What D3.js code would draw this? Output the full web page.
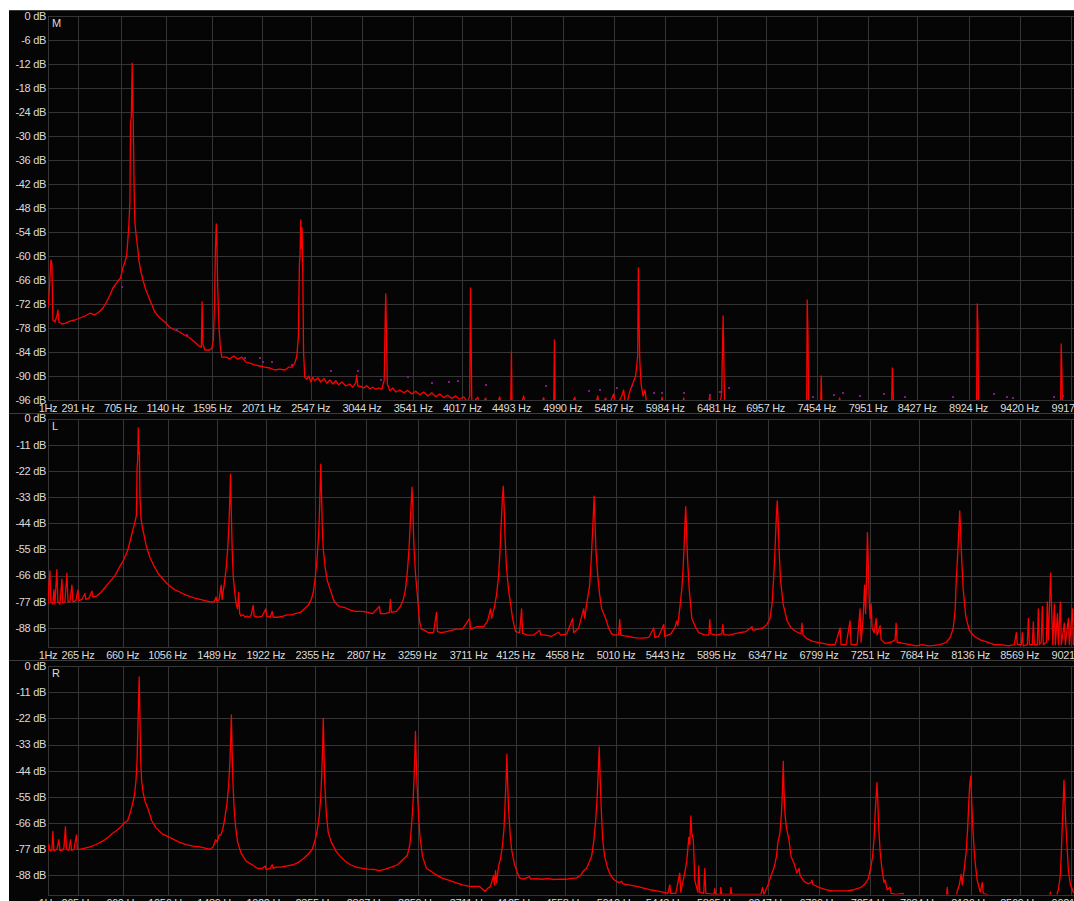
<!DOCTYPE html>
<html>
<head>
<meta charset="utf-8">
<script src="https://cdn.jsdelivr.net/npm/d3@7"></script>
<style>
body { margin: 0; background: #fff; }
svg { display: block; }
text { font-family: "Liberation Sans", Arial, sans-serif; font-size: 11px; fill: #dadada; letter-spacing: -0.3px; }
</style>
</head>
<body>
<script>
// tick values
var dbTicksM = [0, -6, -12, -18, -24, -30, -36, -42, -48, -54, -60, -66, -72, -78, -84, -90, -96];
var dbTicksLR = [0, -11, -22, -33, -44, -55, -66, -77, -88];
var freqTicksM = [1, 291, 705, 1140, 1595, 2071, 2547, 3044, 3541, 4017, 4493, 4990, 5487, 5984, 6481, 6957, 7454, 7951, 8427, 8924, 9420, 9917];
var freqTicksLR = [1, 265, 660, 1056, 1489, 1922, 2355, 2807, 3259, 3711, 4125, 4558, 5010, 5443, 5895, 6347, 6799, 7251, 7684, 8136, 8569, 9021];

// spectra: [Hz, dB]; -98 means below the bottom of the display
var mSpectrum = [[1,-73],[10,-70],[19,-66],[29,-61],[39,-62],[48,-76],[68,-76.5],[87,-75],[97,-73.5],[107,-76.5],[136,-77],[174,-76.8],[213,-76.3],[262,-76],[310,-75.5],[359,-75],[407,-74.3],[455,-74.7],[504,-73.8],[533,-73],[562,-71.8],[601,-69.8],[630,-68],[659,-67],[678,-66.3],[704,-65.5],[727,-63],[746,-61.5],[763,-60],[775,-56],[785,-52],[795,-46.5],[801,-27],[809,-25],[817,-11.8],[824,-24.5],[827,-26],[836,-43.5],[843,-51.5],[856,-55],[869,-57.7],[882,-61],[898,-63.5],[921,-66],[950,-68.5],[988,-71],[1037,-74],[1085,-75.5],[1134,-76.5],[1182,-77.8],[1231,-78.5],[1279,-79],[1328,-79.8],[1376,-80.5],[1424,-81.5],[1463,-82.5],[1487,-82.8],[1495,-71.5],[1502,-82],[1521,-83.5],[1570,-83.5],[1589,-83],[1604,-81],[1615,-72],[1624,-58],[1632,-52],[1639,-58],[1646,-68],[1659,-78],[1672,-83],[1686,-85.3],[1725,-85.3],[1764,-85.7],[1802,-85],[1841,-85.8],[1880,-85.3],[1919,-86.5],[1957,-86.8],[2006,-87.2],[2054,-87.5],[2103,-87.8],[2151,-88],[2200,-88.5],[2248,-88.3],[2297,-88.5],[2335,-87.8],[2364,-87.8],[2394,-86.8],[2413,-85],[2428,-80],[2438,-62],[2444,-60],[2451,-51],[2457,-58],[2464,-53],[2471,-65],[2478,-84],[2490,-90.3],[2510,-90.8],[2529,-90],[2549,-91.5],[2568,-90.3],[2587,-91.2],[2616,-90.5],[2645,-91.5],[2675,-90.6],[2704,-91.8],[2733,-91],[2762,-92],[2791,-91.2],[2820,-92.2],[2849,-91.5],[2888,-92.5],[2926,-92],[2955,-92.8],[2984,-91.7],[2994,-89.8],[3004,-92.5],[3033,-92.6],[3062,-93],[3091,-92.4],[3120,-93.2],[3149,-92.8],[3178,-93.3],[3207,-93],[3237,-93.3],[3260,-91],[3270,-75],[3275,-69.5],[3282,-80],[3290,-92],[3314,-93.7],[3343,-93],[3372,-94],[3411,-93.5],[3450,-94.2],[3488,-93.6],[3527,-94.5],[3566,-93.8],[3605,-94.7],[3643,-94],[3682,-95],[3721,-94.2],[3760,-95.2],[3798,-94.5],[3837,-95.4],[3876,-94.8],[3915,-95.6],[3953,-95],[3992,-95.8],[4031,-95.2],[4070,-96.5],[4089,-95],[4096,-68],[4102,-80],[4109,-97],[4167,-95.3],[4186,-98],[4244,-95.5],[4264,-98],[4341,-98],[4380,-95.2],[4399,-98],[4486,-98],[4493,-84],[4499,-98],[4574,-98],[4612,-95],[4632,-98],[4767,-98],[4806,-95.4],[4825,-98],[4903,-98],[4910,-81],[4916,-98],[5058,-98],[5107,-95.3],[5126,-98],[5300,-98],[5330,-95],[5349,-98],[5407,-95.5],[5426,-98],[5484,-94.5],[5504,-98],[5562,-95],[5581,-93.5],[5601,-98],[5639,-94],[5668,-92],[5697,-90],[5717,-85],[5723,-63],[5729,-75],[5737,-86],[5750,-92],[5769,-95],[5788,-93.5],[5808,-98],[5934,-98],[5953,-95.3],[5972,-98],[6143,-98],[6163,-95.5],[6182,-98],[6395,-98],[6415,-95],[6434,-98],[6511,-98],[6531,-94],[6545,-75],[6552,-86],[6560,-98],[7355,-98],[7360,-71],[7368,-80],[7374,-98],[7490,-98],[7496,-90],[7503,-98],[7655,-98],[7674,-95.5],[7694,-98],[8178,-98],[8185,-88],[8191,-93],[8198,-98],[9002,-98],[9008,-72],[9015,-78],[9021,-98],[9816,-98],[9822,-82],[9828,-88],[9835,-98],[9942,-98]];

var lSpectrum = [[1,-78],[9,-70],[18,-64],[26,-77],[44,-78],[53,-72],[62,-78],[79,-63.5],[88,-77],[106,-78],[124,-67.5],[132,-77.5],[150,-77],[168,-65],[177,-77],[194,-77],[212,-70],[221,-77],[247,-76.5],[265,-72],[274,-76.5],[300,-76],[327,-73.5],[335,-76],[362,-75.5],[389,-72.5],[397,-75],[433,-74.5],[468,-73],[503,-71],[547,-68.5],[592,-66],[636,-62],[662,-60],[689,-57],[706,-55],[733,-50],[751,-46.5],[768,-43.5],[781,-40.5],[786,-21],[792,-17],[797,-4],[803,-15],[807,-14],[812,-33],[821,-42],[834,-46],[848,-49],[865,-53],[883,-56],[901,-58.5],[936,-62],[971,-65],[1007,-67],[1042,-69],[1077,-70.5],[1121,-72],[1166,-73],[1210,-74],[1254,-74.8],[1298,-75.5],[1342,-76],[1386,-76.5],[1430,-77],[1466,-77],[1483,-75],[1492,-77],[1510,-76],[1528,-70],[1536,-76],[1554,-70],[1572,-63],[1585,-55],[1596,-45],[1603,-35.5],[1610,-23.4],[1616,-37],[1625,-55],[1634,-66],[1647,-73],[1660,-78],[1673,-80],[1682,-73],[1691,-82],[1704,-83],[1722,-82.5],[1739,-83.5],[1757,-83],[1775,-83.5],[1793,-82.5],[1810,-78.5],[1819,-83],[1854,-83.5],[1890,-83],[1921,-80],[1930,-83],[1960,-83.5],[1978,-81],[1987,-83.5],[2031,-83.5],[2075,-83],[2110,-82.5],[2146,-82.5],[2181,-82],[2225,-81.5],[2260,-80],[2296,-78.5],[2322,-76],[2340,-73],[2357,-67],[2375,-58],[2388,-48],[2397,-36],[2406,-19.2],[2412,-30],[2419,-45],[2428,-55],[2446,-63],[2463,-68],[2490,-72],[2525,-77],[2570,-79],[2623,-79.5],[2667,-80.5],[2711,-81],[2773,-81],[2826,-81.5],[2861,-82],[2923,-79],[2932,-82],[2976,-82],[3011,-81.5],[3020,-76],[3029,-81.5],[3073,-81],[3108,-79],[3134,-76],[3152,-72],[3170,-64],[3184,-55],[3194,-45],[3203,-36],[3210,-28.8],[3217,-36],[3226,-52],[3241,-65],[3259,-75],[3276,-85],[3294,-88.5],[3321,-89],[3356,-90],[3400,-90],[3426,-81.5],[3435,-89.5],[3471,-90],[3515,-89.5],[3559,-89],[3603,-88.5],[3656,-88.5],[3718,-84],[3727,-88.5],[3780,-87.5],[3842,-87.5],[3877,-85],[3903,-80],[3912,-84],[3938,-79],[3956,-74],[3974,-66],[3987,-55],[3997,-44],[4006,-35],[4015,-28.4],[4022,-36],[4031,-50],[4044,-63],[4062,-72],[4080,-78],[4097,-84],[4124,-89.5],[4159,-90],[4177,-80],[4186,-90.3],[4230,-91],[4283,-91],[4336,-89],[4345,-90.8],[4388,-91],[4441,-91.5],[4503,-89.8],[4521,-91],[4574,-90.5],[4627,-84],[4636,-90],[4680,-88],[4724,-80],[4733,-84],[4750,-78],[4777,-70],[4790,-60],[4800,-50],[4809,-41],[4816,-32.6],[4823,-42],[4832,-55],[4848,-66],[4865,-74],[4883,-80],[4918,-84],[4944,-88],[4971,-90.5],[4998,-91],[5033,-90.8],[5042,-84.5],[5051,-91],[5086,-91.3],[5121,-91.5],[5157,-92],[5192,-92.2],[5245,-92.3],[5298,-92],[5342,-88],[5351,-92],[5386,-91.5],[5430,-86.5],[5439,-91.5],[5492,-90.5],[5527,-88],[5545,-85],[5554,-87],[5571,-80],[5589,-72],[5602,-62],[5611,-52],[5618,-43],[5624,-37],[5630,-45],[5639,-58],[5655,-72],[5678,-84],[5704,-87],[5739,-90],[5783,-90.8],[5828,-91],[5836,-84.5],[5845,-90.5],[5898,-91],[5942,-90.5],[5951,-86.5],[5960,-90.8],[6013,-91],[6048,-90.5],[6101,-90],[6155,-89.5],[6208,-87.5],[6217,-89],[6261,-88.5],[6305,-88],[6340,-86.5],[6367,-84],[6385,-78],[6398,-68],[6409,-58],[6417,-48],[6424,-40],[6431,-34.6],[6438,-42],[6447,-55],[6460,-68],[6483,-78],[6518,-85],[6553,-88],[6596,-89.5],[6640,-90.5],[6649,-86],[6658,-91],[6693,-92.5],[6737,-93.5],[6781,-94],[6835,-94.5],[6888,-95],[6941,-95],[6985,-88],[6993,-95],[7038,-95],[7073,-85],[7082,-95],[7135,-95],[7161,-80],[7170,-94],[7188,-84],[7201,-70],[7210,-82],[7219,-65],[7226,-48],[7232,-58],[7241,-75],[7250,-84],[7259,-78],[7267,-88],[7285,-90],[7303,-84],[7311,-91],[7338,-87],[7347,-93],[7382,-94.5],[7435,-94],[7470,-93],[7479,-86],[7488,-94],[7541,-94.5],[7603,-95],[7656,-95.5],[7709,-95],[7762,-95.5],[7815,-95.3],[7868,-95],[7921,-94],[7956,-92],[7983,-88],[8000,-80],[8009,-68],[8024,-55],[8033,-46],[8040,-38.8],[8047,-46],[8056,-58],[8071,-72],[8093,-83],[8124,-89],[8168,-91.5],[8221,-93],[8283,-94],[8345,-95],[8406,-95],[8468,-95.5],[8521,-95],[8539,-90],[8548,-95],[8583,-95],[8592,-90],[8600,-95.5],[8636,-95],[8645,-84],[8654,-95],[8680,-95],[8689,-85.5],[8698,-95],[8724,-95],[8733,-80],[8742,-95],[8759,-94],[8768,-79],[8777,-95],[8804,-94],[8812,-77],[8821,-93],[8834,-75],[8841,-65],[8850,-80],[8861,-95],[8874,-78],[8883,-95],[8901,-82],[8910,-95],[8927,-77],[8936,-95],[8962,-86],[8971,-95],[8998,-84],[9007,-95],[9034,-80],[9042,-95],[9060,-95]];

var rSpectrum = [[1,-77.5],[9,-75],[18,-77.7],[35,-77.5],[44,-69.5],[53,-77.7],[79,-77],[97,-73],[106,-77.5],[124,-77.5],[141,-76.5],[155,-67.5],[164,-77],[185,-77.5],[200,-73],[209,-77.5],[230,-77],[252,-71],[260,-77],[283,-77],[327,-76.5],[371,-76],[424,-75],[486,-73.5],[530,-72],[565,-70.5],[609,-69],[645,-67.5],[671,-66],[703,-65],[724,-62],[746,-58],[764,-54],[777,-48],[786,-40],[793,-27],[799,-15],[805,-4.6],[811,-20],[817,-38],[826,-48],[839,-53],[857,-57],[883,-60],[916,-65],[954,-68],[1007,-70.5],[1051,-71.5],[1095,-72.5],[1157,-74],[1219,-75],[1280,-75.7],[1342,-76],[1386,-76.5],[1430,-77],[1457,-76],[1479,-73],[1492,-74],[1510,-71],[1525,-71],[1545,-68],[1563,-63],[1581,-57],[1594,-50],[1605,-40],[1612,-30],[1618,-20.5],[1623,-33],[1631,-48],[1642,-60],[1656,-68],[1673,-74],[1704,-78.7],[1748,-82],[1801,-83.5],[1846,-85],[1890,-85],[1916,-84],[1925,-85.5],[1960,-85],[1978,-83.5],[1987,-85],[2013,-84.5],[2057,-84.5],[2110,-84],[2163,-83.5],[2208,-82.5],[2252,-81],[2296,-79],[2331,-77],[2357,-73],[2375,-69],[2393,-63],[2406,-55],[2415,-45],[2422,-35],[2428,-22],[2434,-35],[2442,-50],[2455,-62],[2472,-70],[2499,-74],[2543,-78],[2587,-80.5],[2623,-82],[2667,-83.5],[2720,-84.5],[2773,-85],[2826,-85.3],[2879,-85.5],[2923,-86],[2976,-85.3],[3029,-84.5],[3082,-83.5],[3126,-81.5],[3170,-79.5],[3192,-75],[3205,-68],[3219,-58],[3228,-48],[3235,-38],[3241,-27.5],[3247,-38],[3255,-50],[3268,-62],[3281,-72],[3303,-80],[3338,-85],[3400,-87],[3471,-89],[3532,-90],[3595,-91],[3656,-92],[3718,-92.6],[3771,-92.6],[3806,-92.6],[3854,-94.7],[3877,-93.5],[3903,-92.5],[3930,-88],[3938,-92],[3947,-86],[3956,-91],[3974,-84],[3991,-81],[4009,-75],[4022,-68],[4031,-58],[4040,-48],[4047,-37],[4053,-48],[4062,-60],[4075,-70],[4088,-77],[4115,-83.5],[4141,-87],[4159,-89],[4194,-89.5],[4247,-88.5],[4256,-89.5],[4300,-89.3],[4353,-89.6],[4406,-89.3],[4459,-89.7],[4512,-89.5],[4565,-89.6],[4618,-89.2],[4662,-89],[4697,-88],[4724,-86],[4750,-85],[4794,-80],[4812,-74],[4830,-65],[4843,-55],[4852,-45],[4861,-34],[4868,-45],[4879,-60],[4892,-73],[4909,-80],[4936,-85],[4962,-88],[4998,-90],[5033,-91],[5060,-90.5],[5069,-91.5],[5121,-92],[5183,-92.5],[5245,-93.2],[5307,-94],[5369,-94.5],[5422,-95],[5466,-95.5],[5484,-92],[5492,-95.5],[5536,-95.5],[5571,-87],[5580,-95],[5615,-87],[5633,-82],[5651,-72],[5660,-75],[5669,-63],[5677,-70],[5691,-73],[5704,-90],[5731,-95],[5739,-84],[5748,-95],[5783,-95.5],[5792,-85],[5801,-95.5],[5872,-96],[5880,-93.5],[5889,-96],[5929,-96],[5933,-93],[5942,-96],[6017,-96],[6022,-93],[6031,-96],[6287,-96],[6301,-93],[6314,-96],[6349,-92],[6376,-88],[6393,-86],[6411,-83],[6424,-80],[6437,-74],[6455,-70],[6468,-62],[6477,-52],[6484,-40],[6490,-52],[6499,-62],[6512,-68],[6534,-73],[6553,-80],[6579,-83],[6605,-87],[6623,-85],[6632,-88],[6667,-90.5],[6702,-91.5],[6729,-91],[6737,-90],[6746,-91.8],[6799,-93],[6852,-93.8],[6905,-94.5],[6976,-94.5],[7046,-94.5],[7108,-94],[7170,-93],[7205,-91.5],[7232,-89.5],[7254,-85],[7272,-80],[7285,-72],[7294,-62],[7303,-55],[7310,-49],[7317,-56],[7326,-68],[7338,-78],[7356,-86],[7373,-91],[7382,-90],[7400,-94],[7426,-93],[7435,-95.5],[7479,-96],[7541,-95.5],[7550,-98],[7876,-98],[7921,-98],[7930,-93],[7939,-98],[8009,-98],[8018,-94.5],[8036,-92],[8053,-87.5],[8062,-92],[8080,-85],[8097,-78],[8110,-68],[8119,-58],[8128,-50],[8137,-46.3],[8144,-55],[8153,-66],[8168,-78],[8177,-83],[8194,-90],[8221,-95],[8239,-91],[8247,-95.5],[8283,-96],[8345,-98],[8831,-98],[8839,-95],[8848,-98],[8897,-98],[8901,-95],[8910,-94],[8927,-88],[8936,-78],[8945,-66],[8954,-55],[8959,-48],[8966,-56],[8976,-67],[8989,-78],[8998,-86],[9016,-92],[9042,-95],[9060,-96]];

// peak-hold markers on the M trace
var mPeakHold = [[717,-67.7],[1250,-78.5],[1347,-79.8],[1909,-85.5],[2054,-85.5],[2083,-86.5],[2171,-86.5],[2364,-87.3],[2742,-88.7],[3004,-88.7],[3227,-91],[3494,-90.3],[3721,-91.8],[3891,-91.6],[3973,-91.2],[4244,-92.3],[4826,-92.5],[5242,-93.7],[5349,-93.5],[5514,-93.1],[5659,-92.5],[5872,-94.2],[5955,-94.3],[6163,-94.2],[6415,-94.75],[6517,-93.9],[6599,-93.1],[7413,-95.2],[7622,-94.75],[7704,-94.2],[7868,-95],[8101,-94.5],[8310,-95.2],[8769,-95.2],[9167,-94.5],[9293,-95.2],[9351,-95.6],[9748,-95.2],[9840,-95]];

var panelNames = ["M", "L", "R"];

var W = 1074, H = 901,
    left = 48, right = 1071;

var svg = d3.select("body").append("svg").attr("width", W).attr("height", H);

svg.append("rect").attr("x", 9).attr("y", 10).attr("width", W - 9).attr("height", H - 10).attr("fill", "#050505");

var panels = [
  {name: panelNames[0], top: 16, h: 384, dbTicks: dbTicksM, freqTicks: freqTicksM, data: mSpectrum, hold: mPeakHold},
  {name: panelNames[1], top: 418.5, h: 228.5, dbTicks: dbTicksLR, freqTicks: freqTicksLR, data: lSpectrum, hold: []},
  {name: panelNames[2], top: 666, h: 228.5, dbTicks: dbTicksLR, freqTicks: freqTicksLR, data: rSpectrum, hold: []}
];

function crisp(v) { return Math.round(v) + 0.5; }

panels.forEach(function(p, i) {
  var x = d3.scaleLinear().domain([p.freqTicks[0], p.freqTicks[p.freqTicks.length - 1]]).range([left, right]);
  var y = d3.scaleLinear().domain([-96, 0]).range([p.top + p.h, p.top]);
  var g = svg.append("g");

  // panel top border
  g.append("line").attr("x1", 9).attr("x2", W).attr("y1", crisp(p.top - 6)).attr("y2", crisp(p.top - 6))
    .attr("stroke", "#3c3c3c");

  // grid
  g.selectAll(".hg").data(p.dbTicks.concat([-96])).enter().append("line")
    .attr("x1", left).attr("x2", W)
    .attr("y1", function(d) { return crisp(y(d)); })
    .attr("y2", function(d) { return crisp(y(d)); })
    .attr("stroke", "#353535");
  g.selectAll(".vg").data(p.freqTicks).enter().append("line")
    .attr("x1", function(d) { return crisp(x(d)); })
    .attr("x2", function(d) { return crisp(x(d)); })
    .attr("y1", crisp(p.top)).attr("y2", crisp(p.top + p.h))
    .attr("stroke", "#353535");

  // clip + trace
  g.append("clipPath").attr("id", "clip" + i).append("rect")
    .attr("x", left).attr("y", p.top).attr("width", W - left).attr("height", p.h);

  var line = d3.line()
    .x(function(d) { return x(d[0]); })
    .y(function(d) { return y(d[1]); });

  g.append("path").datum(p.data)
    .attr("clip-path", "url(#clip" + i + ")")
    .attr("fill", "none")
    .attr("stroke", "#ff0000")
    .attr("stroke-width", 1.3)
    .attr("stroke-linejoin", "round")
    .attr("d", line);

  g.selectAll(".hold").data(p.hold).enter().append("rect")
    .attr("x", function(d) { return Math.round(x(d[0])) - 1; })
    .attr("y", function(d) { return Math.round(y(d[1])) - 1; })
    .attr("width", 2).attr("height", 2)
    .attr("fill", "#7d1a86");

  // dB labels
  g.selectAll(".yl").data(p.dbTicks).enter().append("text")
    .attr("x", 46).attr("y", function(d) { return y(d); })
    .attr("dy", "0.35em").attr("text-anchor", "end")
    .text(function(d) { return d + " dB"; });

  // frequency labels
  g.selectAll(".xl").data(p.freqTicks).enter().append("text")
    .attr("x", function(d) { return x(d); })
    .attr("y", p.top + p.h + 8.5)
    .attr("dy", "0.35em").attr("text-anchor", "middle")
    .text(function(d) { return d === 1 ? "1Hz" : d + " Hz"; });

  g.append("text").attr("x", 52).attr("y", p.top + 11).text(p.name);
});
</script>
</body>
</html>
